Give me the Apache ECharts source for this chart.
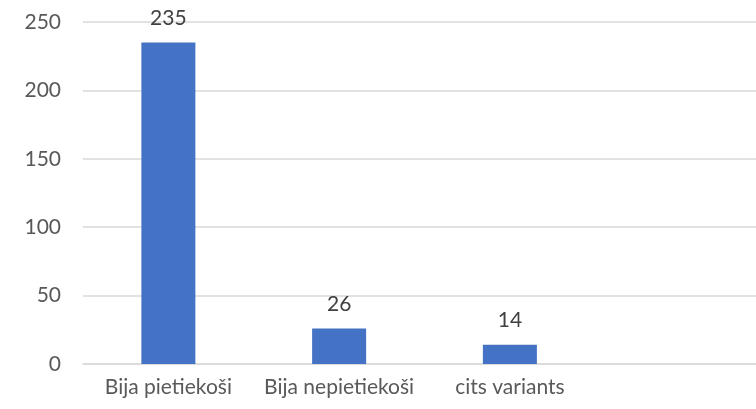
<!DOCTYPE html>
<html>
<head>
<meta charset="utf-8">
<script src="https://cdn.jsdelivr.net/npm/echarts@6/dist/echarts.min.js"></script>
<style>
  html, body { margin: 0; padding: 0; background: #fff; overflow: hidden; }
  #chart { width: 770px; height: 409px; }
</style>
</head>
<body>
<div id="chart"></div>
<script>
// categories (the fourth slot is empty in the original)
const categories = ['Bija pietiekoši', 'Bija nepietiekoši', 'cits variants', ''];
const values = [235, 26, 14, null];
const yTicks = [0, 50, 100, 150, 200, 250];

// the plot area runs a little past the right edge of the 756px window
const chart = echarts.init(document.getElementById('chart'));
chart.setOption({
    animation: false,
    textStyle: { fontFamily: 'Lato, "Open Sans", sans-serif' },
    grid: { left: 83, top: 22, right: 4, bottom: 45, containLabel: false },
    xAxis: {
        type: 'category',
        data: categories,
        axisLine: { lineStyle: { color: '#d9d9d9', width: 1.5 } },
        axisTick: { show: false },
        axisLabel: { color: '#595959', fontSize: 21, margin: 13, interval: 0 }
    },
    yAxis: {
        type: 'value',
        min: yTicks[0],
        max: yTicks[yTicks.length - 1],
        interval: 50,
        axisLine: { show: false },
        axisTick: { show: false },
        axisLabel: { color: '#595959', fontSize: 21, margin: 22 },
        splitLine: { lineStyle: { color: '#d9d9d9', width: 1.5 } }
    },
    series: [{
        type: 'bar',
        data: values,
        barWidth: 54,
        itemStyle: { color: '#4472c4' },
        label: {
            show: true,
            position: 'top',
            distance: 14,
            color: '#404040',
            fontSize: 21
        }
    }]
});
</script>
</body>
</html>
